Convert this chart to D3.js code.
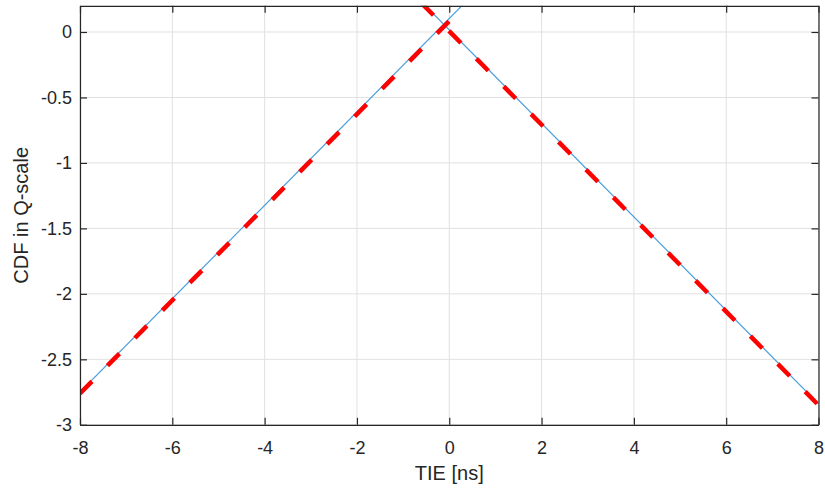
<!DOCTYPE html>
<html>
<head>
<meta charset="utf-8">
<script src="https://cdn.jsdelivr.net/npm/d3@7"></script>
<style>
body { margin: 0; background: #fff; }
svg { display: block; font-family: "Liberation Sans", Arial, sans-serif; }
</style>
</head>
<body>
<script>
// tick values / labels
var xTicks = [-8,-6,-4,-2,0,2,4,6,8];
var yTicks = [-3,-2.5,-2,-1.5,-1,-0.5,0];
var yTickLabels = ['-3','-2.5','-2','-1.5','-1','-0.5','0'];

// tail lines (measured CDF and fitted), x in ns, y in Q-scale
var leftX = [-8, 0.3];
var measLeftY = [-2.75, 0.21];
var fitLeftY = [-2.76, 0.19];
var rightX = [-0.6, 8];
var measRightY = [0.23, -2.84];
var fitRightY = [0.22, -2.85];

var W = 825, H = 490;
var svg = d3.select('body').append('svg').attr('width', W).attr('height', H);

var x = d3.scaleLinear().domain([-8, 8]).range([80, 818.5]);
var y = d3.scaleLinear().domain([-3, 0.2]).range([424.8, 5.8]);

svg.append('clipPath').attr('id', 'clip')
  .append('rect')
    .attr('x', 80).attr('y', 5.8)
    .attr('width', 738.5).attr('height', 419);

// grid
svg.append('g').selectAll('line')
  .data(xTicks)
  .enter().append('line')
    .attr('x1', function(d) { return x(d); })
    .attr('x2', function(d) { return x(d); })
    .attr('y1', y(0.2)).attr('y2', y(-3))
    .attr('stroke', '#e0e0e0').attr('stroke-width', 1);
svg.append('g').selectAll('line')
  .data(yTicks)
  .enter().append('line')
    .attr('y1', function(d) { return y(d); })
    .attr('y2', function(d) { return y(d); })
    .attr('x1', x(-8)).attr('x2', x(8))
    .attr('stroke', '#e0e0e0').attr('stroke-width', 1);

// series
var line = d3.line()
  .x(function(d) { return x(d[0]); })
  .y(function(d) { return y(d[1]); });

var plot = svg.append('g').attr('clip-path', 'url(#clip)');

function pairs(xs, ys) { return xs.map(function(v, i) { return [v, ys[i]]; }); }

plot.append('path').datum(pairs(leftX, measLeftY))
  .attr('d', line).attr('fill', 'none')
  .attr('stroke', '#4a9ddb').attr('stroke-width', 1.2);
plot.append('path').datum(pairs(rightX, measRightY))
  .attr('d', line).attr('fill', 'none')
  .attr('stroke', '#4a9ddb').attr('stroke-width', 1.2);

plot.append('path').datum(pairs(leftX, fitLeftY))
  .attr('d', line).attr('fill', 'none')
  .attr('stroke', '#ff0000').attr('stroke-width', 4.5)
  .attr('stroke-dasharray', '17,22');
plot.append('path').datum(pairs(rightX, fitRightY))
  .attr('d', line).attr('fill', 'none')
  .attr('stroke', '#ff0000').attr('stroke-width', 4.5)
  .attr('stroke-dasharray', '17,22');

// axes
function styleAxis(g) {
  g.selectAll('.domain').attr('stroke', '#262626').attr('stroke-width', 1.2);
  g.selectAll('.tick line').attr('stroke', '#262626').attr('stroke-width', 1.2);
  g.selectAll('text').attr('fill', '#262626').attr('font-size', 18)
    .attr('font-family', '"Liberation Sans", Arial, sans-serif');
}

svg.append('g')
  .attr('transform', 'translate(0,' + y(-3) + ')')
  .call(d3.axisBottom(x).tickValues(xTicks).tickSizeInner(-7).tickSizeOuter(0)
    .tickPadding(16).tickFormat(function(d) { return String(d); }))
  .call(styleAxis);

svg.append('g')
  .attr('transform', 'translate(0,' + y(0.2) + ')')
  .call(d3.axisTop(x).tickValues(xTicks).tickSizeInner(-7).tickSizeOuter(0)
    .tickFormat(''))
  .call(styleAxis);

svg.append('g')
  .attr('transform', 'translate(' + x(-8) + ',0)')
  .call(d3.axisLeft(y).tickValues(yTicks).tickSizeInner(-7).tickSizeOuter(0)
    .tickPadding(8).tickFormat(function(d, i) { return yTickLabels[i]; }))
  .call(styleAxis);

svg.append('g')
  .attr('transform', 'translate(' + x(8) + ',0)')
  .call(d3.axisRight(y).tickValues(yTicks).tickSizeInner(-7).tickSizeOuter(0)
    .tickFormat(''))
  .call(styleAxis);

// axis titles
svg.append('text')
  .attr('x', (x(-8) + x(8)) / 2)
  .attr('y', 480)
  .attr('text-anchor', 'middle')
  .attr('font-size', 20)
  .attr('fill', '#262626')
  .text('TIE [ns]');

svg.append('text')
  .attr('transform', 'translate(28,' + (y(0.2) + y(-3)) / 2 + ') rotate(-90)')
  .attr('text-anchor', 'middle')
  .attr('font-size', 20)
  .attr('fill', '#262626')
  .text('CDF in Q-scale');
</script>
</body>
</html>
